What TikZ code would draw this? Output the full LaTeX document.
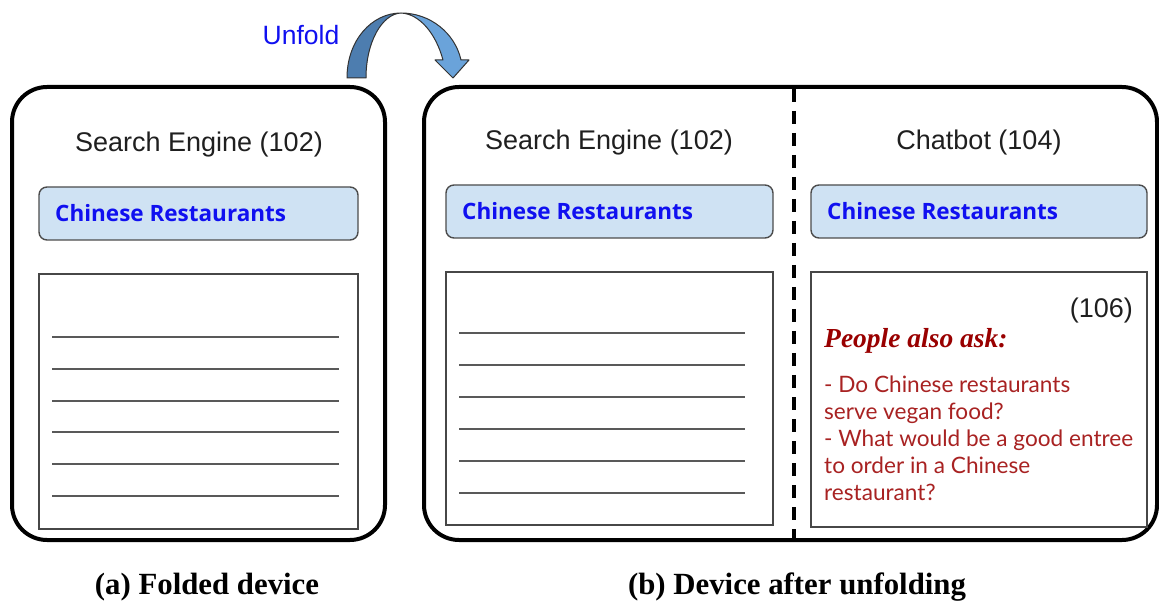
\documentclass[tikz,border=0pt]{standalone}
\usepackage{fontspec}
\setmainfont{Liberation Sans}
\newfontfamily\osans{Open Sans}
\newfontfamily\latofam{Lato}
\newfontfamily\tnr{Liberation Serif}
\definecolor{sbfill}{HTML}{CFE2F3}
\definecolor{qblue}{HTML}{1010F0}
\definecolor{qred}{HTML}{A82222}
\definecolor{hred}{HTML}{990000}
\definecolor{arrdark}{HTML}{4D7DAF}
\definecolor{arrlight}{HTML}{6AA3DA}
\begin{document}
\begin{tikzpicture}[x=1pt,y=-1pt,
  device/.style={draw=black, line width=4, rounded corners=35, inner sep=0, outer sep=0},
  sbox/.style={draw=black!70, fill=sbfill, line width=1.4, rounded corners=8, inner sep=0, outer sep=0},
  rbox/.style={draw=black!72, line width=1.4, inner sep=0, outer sep=0},
  rline/.style={draw=black!65, line width=2},
  title/.style={font=\fontsize{27}{30}\selectfont, text=black!88, anchor=base, inner sep=0},
  query/.style={font=\osans\bfseries\fontsize{22.5}{26}\selectfont, text=qblue, anchor=base west, inner sep=0},
  body/.style={font=\latofam\fontsize{22.6}{26}\selectfont, text=qred, anchor=base west, inner sep=0},
  caption/.style={font=\tnr\bfseries\fontsize{30.8}{34}\selectfont, anchor=base, inner sep=0},
  arrowline/.style={draw=black!80, line width=1}
]
\useasboundingbox (0,0) rectangle (1159,601);

% devices
\node[device, minimum width=373, minimum height=453] (devA) at (198.5,313.5) {};
\node[device, minimum width=733, minimum height=453] (devB) at (790.5,313.5) {};
\coordinate (dtop) at (794,89);
\coordinate (dbot) at (794,538);
\draw[line width=4, dash pattern=on 13 off 9] (dtop) -- (dbot);

% titles
\node[title] (tA) at (199,152) {Search Engine (102)};
\node[title] (tB) at (609,150) {Search Engine (102)};
\node[title] (tC) at (979,150) {Chatbot (104)};

% search boxes
\node[sbox, minimum width=319, minimum height=53] (sA) at (198.5,213.5) {};
\node[sbox, minimum width=327, minimum height=53] (sB) at (609.5,211.5) {};
\node[sbox, minimum width=336, minimum height=53] (sC) at (979,211.5) {};
\node[query] (qA) at (55,222) {Chinese Restaurants};
\node[query] (qB) at (462,220) {Chinese Restaurants};
\node[query] (qC) at (827,220) {Chinese Restaurants};

% result boxes
\node[rbox, minimum width=319, minimum height=255] (rA) at (198.5,401.5) {};
\node[rbox, minimum width=327, minimum height=253] (rB) at (609.5,398.5) {};
\node[rbox, minimum width=336, minimum height=255] (rC) at (979,399.5) {};
\foreach \y in {337,369,401,432,464,496} \draw[rline] (52,\y) -- (339,\y);
\foreach \y in {333,365,397,429,461,493} \draw[rline] (459,\y) -- (745,\y);

% chatbot content
\node[title, anchor=base east] (n106) at (1133,318) {(106)};
\node[font=\tnr\bfseries\itshape\fontsize{27.5}{30}\selectfont, text=hred, anchor=base west, inner sep=0] (pa) at (824,348) {People also ask:};
\node[body] (l1) at (824,392) {- Do Chinese restaurants};
\node[body] (l2) at (824,419) {serve vegan food?};
\node[body] (l3) at (824,446) {- What would be a good entree};
\node[body] (l4) at (824,473) {to order in a Chinese};
\node[body] (l5) at (824,500) {restaurant?};

% unfold arrow
\node[font=\fontsize{26.5}{30}\selectfont, text=qblue, anchor=base, inner sep=0] (unf) at (301,45) {Unfold};
\fill[arrdark] (347,78) .. controls (347,40) and (372,13) .. (401,13)
  .. controls (382,14) and (366,42) .. (366,78) -- cycle;
\fill[arrlight] (401,13) .. controls (430,13) and (455,33) .. (461,60)
  -- (469,60) -- (453,78) -- (435,60) -- (443,60)
  .. controls (436,34) and (420,14) .. (401,13) -- cycle;
\draw[arrowline, line join=round] (347,78) .. controls (347,40) and (372,13) .. (401,13)
  .. controls (430,13) and (455,33) .. (461,60)
  -- (469,60) -- (453,78) -- (435,60) -- (443,60)
  .. controls (436,34) and (420,14) .. (401,13)
  .. controls (382,14) and (366,42) .. (366,78) -- cycle;

% captions
\node[caption] (capA) at (207,594) {(a) Folded device};
\node[caption] (capB) at (797,594) {(b) Device after unfolding};
\end{tikzpicture}
\end{document}
